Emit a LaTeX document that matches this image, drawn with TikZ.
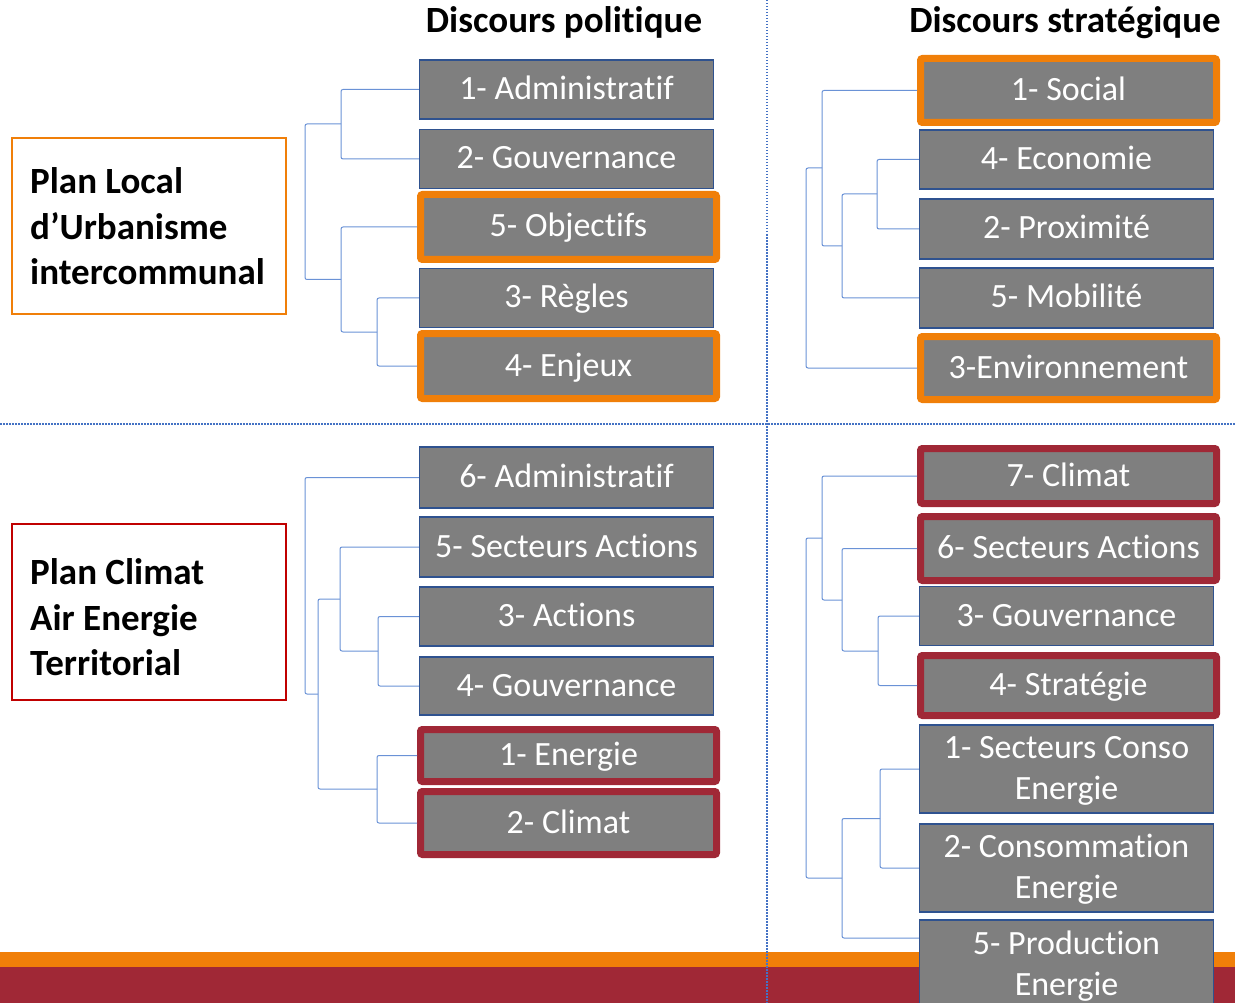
\documentclass[tikz,border=0pt]{standalone}
\usepackage{fontspec}
\setmainfont{Carlito}[Ligatures=NoCommon]
\definecolor{boxgray}{HTML}{7F7F7F}
\definecolor{boxblue}{HTML}{2F528F}
\definecolor{hlorange}{HTML}{F07F09}
\definecolor{hlred}{HTML}{A02836}
\definecolor{plcred}{HTML}{C00000}
\definecolor{dendblue}{HTML}{6A92D6}
\definecolor{divblue}{HTML}{4472C4}
\begin{document}
\begin{tikzpicture}[x=1pt,y=-1pt,
  box/.style={rectangle, fill=boxgray, draw=boxblue, line width=1.5pt,
    minimum width=294pt, inner sep=0pt, text=white,
    font=\fontsize{34}{41}\selectfont, align=center},
  one/.style={text height=20pt, text depth=0pt},
  two/.style={text height=61pt, text depth=0pt},
  hlo/.style={draw=hlorange, line width=7pt, rounded corners=2pt, minimum width=296pt},
  hlr/.style={draw=hlred, line width=7pt, rounded corners=2pt, minimum width=296pt},
  dend/.style={draw=dendblue, line width=1pt, rounded corners=2pt},
  divider/.style={draw=divblue, line width=1.5pt, dash pattern=on 1.5pt off 1.5pt},
  hdr/.style={font=\fontsize{37}{44}\selectfont\bfseries, text height=24pt, text depth=0pt, inner sep=0pt},
  lbl/.style={font=\fontsize{37}{46}\selectfont\bfseries, anchor=base west, inner sep=0pt},
  frame/.style={line width=2.5pt}
]
\clip (0,0) rectangle (1235,1003);

% bottom bars
\fill[hlorange] (0,952) rectangle (1235,967);
\fill[hlred] (0,967) rectangle (1235,1003);

% dividers
\draw[divider] (767,0) -- (767,1003);
\draw[divider] (0,424) -- (1235,424);

% headers
\node[hdr] (h1) at (564,21) {Discours politique};
\node[hdr] (h2) at (1065,21) {Discours stratégique};

% left labels
\draw[frame, draw=hlorange] (12,138) rectangle (286,314);
\node[lbl] (p1) at (30,194) {Plan Local};
\node[lbl] (p2) at (30,240) {d’Urbanisme};
\node[lbl] (p3) at (30,285) {intercommunal};

\draw[frame, draw=plcred] (12,524) rectangle (286,700);
\node[lbl] (q1) at (30,584) {Plan Climat};
\node[lbl] (q2) at (30,630) {Air Energie};
\node[lbl] (q3) at (30,675) {Territorial};

% top-left boxes
\node[box,one,minimum height=59pt] (A1) at (566.5,89.5) {1- Administratif};
\node[box,one,minimum height=59pt] (A2) at (566.5,159) {2- Gouvernance};
\node[box,one,hlo,minimum height=65pt] (A5) at (568.5,227) {5- Objectifs};
\node[box,one,minimum height=59pt] (A3) at (566.5,298) {3- Règles};
\node[box,one,hlo,minimum height=65pt] (A4) at (568.5,366) {4- Enjeux};

% top-right boxes
\node[box,one,hlo,minimum height=64pt] (B1) at (1068.5,90.5) {1- Social};
\node[box,one,minimum height=59pt] (B4) at (1066.5,159.5) {4- Economie};
\node[box,one,minimum height=60pt] (B2) at (1066.5,229) {2- Proximité};
\node[box,one,minimum height=60pt] (B5) at (1066.5,298) {5- Mobilité};
\node[box,one,hlo,minimum height=63pt] (B3) at (1068.5,368) {3-Environnement};

% bottom-left boxes
\node[box,one,minimum height=61pt] (C6) at (566.5,477.5) {6- Administratif};
\node[box,one,minimum height=60pt] (C5) at (566.5,547) {5- Secteurs Actions};
\node[box,one,minimum height=59pt] (C3) at (566.5,616.5) {3- Actions};
\node[box,one,minimum height=58pt] (C4) at (566.5,686) {4- Gouvernance};
\node[box,one,hlr,minimum height=52pt] (C1) at (568.5,755.5) {1- Energie};
\node[box,one,hlr,minimum height=63pt] (C2) at (568.5,823) {2- Climat};

% bottom-right boxes
\node[box,one,hlr,minimum height=55pt] (D7) at (1068.5,476) {7- Climat};
\node[box,one,hlr,minimum height=64pt] (D6) at (1068.5,548.5) {6- Secteurs Actions};
\node[box,one,minimum height=59pt] (D3) at (1066.5,616) {3- Gouvernance};
\node[box,one,hlr,minimum height=60pt] (D4) at (1068.5,685.5) {4- Stratégie};
\node[box,two,minimum height=88pt] (D1) at (1066.5,769) {1- Secteurs Conso\\Energie};
\node[box,two,minimum height=88pt] (D2) at (1066.5,868) {2- Consommation\\Energie};
\node[box,two,minimum height=90pt] (D5) at (1066.5,965) {5- Production\\Energie};

% dendrogram top-left
\coordinate (tm12) at (341,124);
\coordinate (tm34) at (377,332);
\coordinate (tm534) at (341,279.5);
\coordinate (trt) at (305,202);
\draw[dend] (A1.west) -| (tm12) |- (A2.west);
\draw[dend] (A3.west) -| (tm34) |- (A4.west);
\draw[dend] (A5.west) -| (tm534) |- (tm34);
\draw[dend] (tm12) -| (trt) |- (tm534);

% dendrogram top-right
\coordinate (um42) at (877,194);
\coordinate (um425) at (842,246);
\coordinate (um1) at (822,168);
\coordinate (urt) at (806,268);
\draw[dend] (B4.west) -| (um42) |- (B2.west);
\draw[dend] (um42) -| (um425) |- (B5.west);
\draw[dend] (B1.west) -| (um1) |- (um425);
\draw[dend] (um1) -| (urt) |- (B3.west);

% dendrogram bottom-left
\coordinate (cm34) at (378,651);
\coordinate (cm534) at (340,599);
\coordinate (cm12) at (377,789);
\coordinate (cm5341) at (318,694);
\coordinate (crt) at (305,586);
\draw[dend] (C3.west) -| (cm34) |- (C4.west);
\draw[dend] (C5.west) -| (cm534) |- (cm34);
\draw[dend] (C1.west) -| (cm12) |- (C2.west);
\draw[dend] (cm534) -| (cm5341) |- (cm12);
\draw[dend] (C6.west) -| (crt) |- (cm5341);

% dendrogram bottom-right
\coordinate (dm34) at (878,651);
\coordinate (dm634) at (842,600);
\coordinate (dm7) at (822,538);
\coordinate (dm12) at (880,818.5);
\coordinate (dm125) at (842,878);
\coordinate (drt) at (806,708);
\draw[dend] (D3.west) -| (dm34) |- (D4.west);
\draw[dend] (D6.west) -| (dm634) |- (dm34);
\draw[dend] (D7.west) -| (dm7) |- (dm634);
\draw[dend] (D1.west) -| (dm12) |- (D2.west);
\draw[dend] (dm12) -| (dm125) |- ([yshift=27pt]D5.west);
\draw[dend] (dm7) -| (drt) |- (dm125);
\end{tikzpicture}
\end{document}
